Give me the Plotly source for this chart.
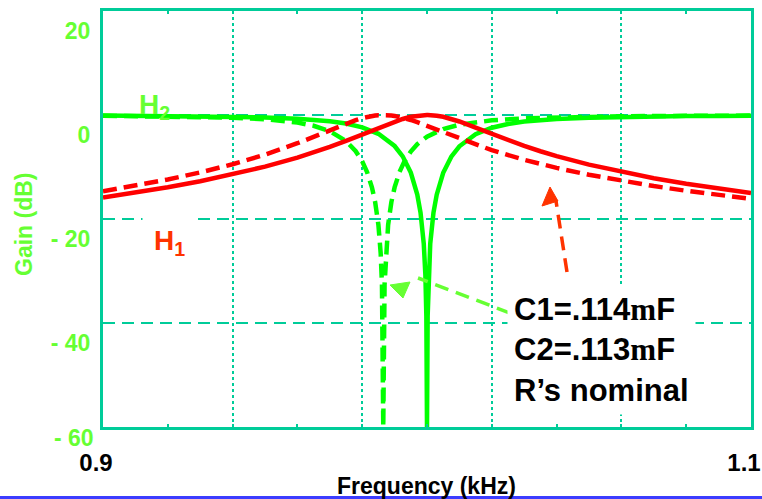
import plotly.graph_objects as go

# Frequency axis samples (kHz) and gains (dB) for the nominal circuit (solid)
freq_nom = [0.90, 0.91, 0.92, 0.93, 0.94, 0.95, 0.96, 0.965, 0.97, 0.975, 0.98,
            0.985, 0.99, 0.9925, 0.995, 0.997, 0.998, 0.999, 0.9995, 0.9998, 1.0,
            1.0002, 1.0005, 1.001, 1.002, 1.003, 1.005, 1.0075, 1.01, 1.015, 1.02,
            1.025, 1.03, 1.035, 1.04, 1.05, 1.06, 1.07, 1.08, 1.09, 1.10]
h1_nom = [-15.85, -14.92, -13.88, -12.73, -11.43, -9.94, -8.20, -7.22, -6.15, -4.99, -3.75,
          -2.48, -1.27, -0.76, -0.35, -0.13, -0.06, -0.01, 0.0, 0.0, 0.0,
          0.0, 0.0, -0.01, -0.06, -0.13, -0.35, -0.75, -1.25, -2.42, -3.65,
          -4.84, -5.95, -6.97, -7.91, -9.55, -10.95, -12.15, -13.21, -14.16, -15.00]
h2_nom = [-0.11, -0.14, -0.18, -0.24, -0.32, -0.46, -0.71, -0.91, -1.21, -1.65, -2.38,
          -3.62, -5.96, -7.95, -11.08, -15.31, -18.76, -24.74, -30.75, -38.7, -60.0,
          -38.7, -30.75, -24.74, -18.76, -15.33, -11.12, -8.01, -6.02, -3.69, -2.45,
          -1.72, -1.27, -0.97, -0.77, -0.51, -0.36, -0.27, -0.21, -0.17, -0.14]

# Gains with C1 = .114 uF, C2 = .113 uF (dashed)
freq_mis = [0.90, 0.91, 0.92, 0.93, 0.94, 0.95, 0.955, 0.96, 0.965, 0.97, 0.975,
            0.978, 0.98, 0.9815, 0.983, 0.984, 0.985, 0.9857, 0.9861, 0.9865, 0.9869,
            0.9873, 0.988, 0.989, 0.99, 0.9915, 0.993, 0.995, 0.997, 1.0, 1.005,
            1.01, 1.015, 1.02, 1.03, 1.04, 1.05, 1.06, 1.07, 1.08, 1.09, 1.10]
h1_mis = [-14.68, -13.61, -12.41, -11.04, -9.47, -7.62, -6.57, -5.43, -4.21, -2.92, -1.65,
          -0.98, -0.60, -0.36, -0.18, -0.09, -0.03, -0.01, 0.0, 0.0, 0.0,
          -0.01, -0.03, -0.09, -0.18, -0.36, -0.59, -0.96, -1.39, -2.10, -3.35,
          -4.57, -5.72, -6.77, -8.61, -10.17, -11.50, -12.65, -13.67, -14.57, -15.39, -16.13]
h2_mis = [-0.15, -0.19, -0.26, -0.36, -0.52, -0.82, -1.08, -1.46, -2.07, -3.11, -5.00,
          -6.96, -8.92, -10.99, -13.90, -16.75, -21.12, -26.55, -32.6, -60.0, -32.6,
          -26.55, -21.13, -16.75, -13.93, -10.99, -8.97, -7.02, -5.62, -4.16, -2.70,
          -1.86, -1.36, -1.03, -0.64, -0.44, -0.32, -0.24, -0.19, -0.16, -0.13, -0.11]

y_ticks = [20, 0, -20, -40, -60]
y_tick_text = ["<b>20</b>", "<b>0</b>", "<b>- 20</b>", "<b>- 40</b>", ""]
y_bottom_text = "<b>- 60</b>"
x_ticks = [0.90, 0.92, 0.94, 0.96, 0.98, 1.00, 1.02, 1.04, 1.06, 1.08, 1.10]
x_tick_text = ["<b>0.9</b>", "", "", "", "", "", "", "", "", "", "<b>1.1</b>"]
x_grid = [0.94, 0.98, 1.02, 1.06]

W, H = 762, 499
L, T, R, B = 103, 11, 11, 72
PW, PH = W - L - R, H - T - B
X0, X1 = 0.9, 1.1
Y0, Y1 = -60, 20

FONT = "Liberation Sans, Arial, sans-serif"
TEAL = "#00cc99"
GREEN = "#00ff00"
LGREEN = "#66ff33"
RED = "#ff0000"
ORANGE = "#ff3300"


def at(px, py):
    """Pixel position on the page -> data coordinates."""
    return X0 + (px - L) * (X1 - X0) / PW, Y1 - (py - T) * (Y1 - Y0) / PH


def paper(px, py):
    """Pixel position on the page -> paper coordinates."""
    return (px - L) / PW, (T + PH - py) / PH


fig = go.Figure()
fig.add_trace(go.Scatter(x=freq_nom, y=h2_nom, mode="lines",
                         line=dict(color=GREEN, width=4.5), name="H2"))
fig.add_trace(go.Scatter(x=freq_mis, y=h2_mis, mode="lines",
                         line=dict(color=GREEN, width=4.5, dash="14px,7px"), name="H2'"))
fig.add_trace(go.Scatter(x=freq_nom, y=h1_nom, mode="lines",
                         line=dict(color=RED, width=4.5), name="H1"))
fig.add_trace(go.Scatter(x=freq_mis, y=h1_mis, mode="lines",
                         line=dict(color=RED, width=4.5, dash="14px,7px"), name="H1'"))

shapes = []


def dashed_arrow(p_start, p_end, tri, color):
    xa, ya = at(*p_start)
    xb, yb = at(*p_end)
    shapes.append(dict(type="line", xref="x", yref="y", x0=xa, y0=ya, x1=xb, y1=yb,
                       line=dict(color=color, width=3.5, dash="14px,8px")))
    pts = [at(*p) for p in tri]
    path = "M " + " L ".join(f"{x:.5f},{y:.4f}" for x, y in pts) + " Z"
    shapes.append(dict(type="path", xref="x", yref="y", path=path,
                       fillcolor=color, line=dict(color=color, width=1)))


dashed_arrow((510, 313), (418, 278), [(390, 285), (410, 282), (403, 298)], LGREEN)
dashed_arrow((567, 272), (556, 201), [(550, 187), (542, 206), (558, 201)], ORANGE)

# blue rule along the bottom of the page
bx0, by = paper(0, 498)
bx1, _ = paper(W, 498)
shapes.append(dict(type="line", xref="paper", yref="paper",
                   x0=bx0, x1=bx1, y0=by, y1=by,
                   line=dict(color="#3c3cff", width=4)))

hx, hy = at(154, 106)
h1x, h1y = at(169, 242)
cx, cy = at(507, 285)
gx, gy = paper(24, 224)
fx, fy = paper(426, 486)
sx, sy = paper(74, 438)
serif_m = '<span style="font-family:Liberation Serif">m</span>'

annotations = [
    dict(x=hx, y=hy, xref="x", yref="y", showarrow=False,
         text="<b>H<sub>2</sub></b>", font=dict(family=FONT, size=28, color=LGREEN)),
    dict(x=h1x, y=h1y, xref="x", yref="y", showarrow=False,
         text="<b>H<sub>1</sub></b>", font=dict(family=FONT, size=28, color=ORANGE),
         bgcolor="white", borderpad=11),
    dict(x=cx, y=cy, xref="x", yref="y", showarrow=False, xanchor="left", yanchor="top",
         align="left", bgcolor="white", borderpad=6,
         text=f"<b>C1=.114{serif_m}F<br>C2=.113{serif_m}F<br>R’s nominal</b>",
         font=dict(family=FONT, size=31, color="black")),
    # bottom y tick label sits closer to its grid line than the others
    dict(x=sx, y=sy, xref="paper", yref="paper", showarrow=False,
         xanchor="center", yanchor="middle",
         text=y_bottom_text, font=dict(family=FONT, size=23, color=LGREEN)),
    # axis titles
    dict(x=gx, y=gy, xref="paper", yref="paper", showarrow=False, textangle=-90,
         xanchor="center", yanchor="middle",
         text="<b>Gain (dB)</b>", font=dict(family=FONT, size=23, color=LGREEN)),
    dict(x=fx, y=fy, xref="paper", yref="paper", showarrow=False,
         xanchor="center", yanchor="middle",
         text="<b>Frequency (kHz)</b>", font=dict(family=FONT, size=23, color="black")),
]

fig.update_layout(
    width=W, height=H,
    margin=dict(l=L, r=R, t=T, b=B, pad=0, autoexpand=False),
    paper_bgcolor="white", plot_bgcolor="white",
    showlegend=False,
    shapes=shapes,
    annotations=annotations,
    font=dict(family=FONT),
)

fig.update_xaxes(
    range=[X0, X1], tickvals=x_ticks, ticktext=x_tick_text,
    showgrid=False, zeroline=False, automargin=False,
    showline=True, mirror="ticks", linecolor=TEAL, linewidth=3,
    ticks="inside", ticklen=3, tickwidth=1.5, tickcolor=TEAL,
    ticklabelshift=-7, ticklabelstandoff=12,
    tickfont=dict(family=FONT, size=24, color="black"),
    minor=dict(tickvals=x_grid, showgrid=True, gridcolor=TEAL, gridwidth=1.5, griddash="dot"),
)
fig.update_yaxes(
    range=[Y0, Y1], tickvals=y_ticks, ticktext=y_tick_text,
    showgrid=True, gridcolor=TEAL, gridwidth=2, griddash="12px,7px",
    zeroline=False, automargin=False,
    showline=True, mirror=True, linecolor=TEAL, linewidth=3,
    ticks="", ticklabelshift=20, ticklabelstandoff=5,
    tickfont=dict(family=FONT, size=23, color=LGREEN),
)

fig.write_html("out.html")
